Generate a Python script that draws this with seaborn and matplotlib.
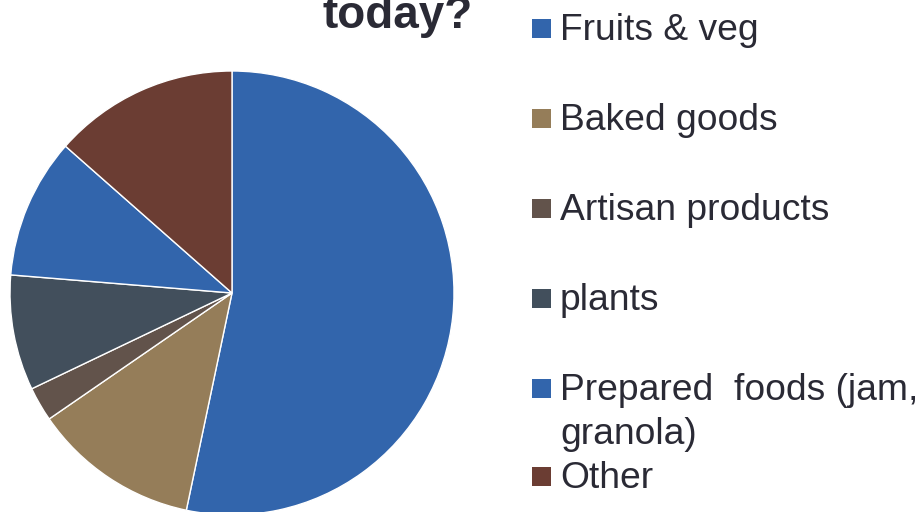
import matplotlib
matplotlib.use("Agg")
import matplotlib.pyplot as plt
import seaborn as sns
from matplotlib.patches import Rectangle

categories = ["Fruits & veg", "Baked goods", "Artisan products", "plants",
              "Prepared  foods (jam,\ngranola)", "Other"]
values = [53.3, 12.1, 2.5, 8.4, 10.2, 13.5]
colors = ["#3265AC", "#957D59", "#62534B", "#424F5C", "#3265AC", "#6B3D33"]
title_text = "today?"

sns.set_theme(style="white")
plt.rcParams["font.family"] = ["Liberation Sans", "DejaVu Sans"]

W, H = 920, 512
fig = plt.figure(figsize=(W / 100, H / 100), dpi=100)
fig.patch.set_facecolor("white")

cx, cy, r = 232, 293, 222
ax = fig.add_axes([(cx - r) / W, (H - (cy + r)) / H, 2 * r / W, 2 * r / H])
ax.pie(values, colors=sns.color_palette(colors), startangle=90, counterclock=False,
       radius=1, wedgeprops=dict(edgecolor="white", linewidth=1.0))
ax.set_xlim(-1, 1)
ax.set_ylim(-1, 1)
ax.set_aspect("equal")
ax.axis("off")

text_color = "#2A2A35"
fig.text(398 / W, 1 - 28 / H, title_text, ha="center", va="baseline",
         fontsize=33, fontweight="bold", color=text_color)

# legend entries: (marker center y, text center y)
y_pos = [28, 118, 208, 298, 388, 476]
for lab, col, yc in zip(categories, colors, y_pos):
    fig.patches.append(Rectangle(((532) / W, 1 - (yc + 9.5) / H), 19 / W, 19 / H,
                                 transform=fig.transFigure, facecolor=col,
                                 edgecolor="none", figure=fig))
    lines = lab.split("\n")
    for i, ln in enumerate(lines):
        fig.text(560 / W, 1 - (yc + 2 + i * 44) / H, ln, ha="left", va="center",
                 fontsize=26.8, color=text_color)

fig.savefig("out.png", dpi=100, facecolor="white")
